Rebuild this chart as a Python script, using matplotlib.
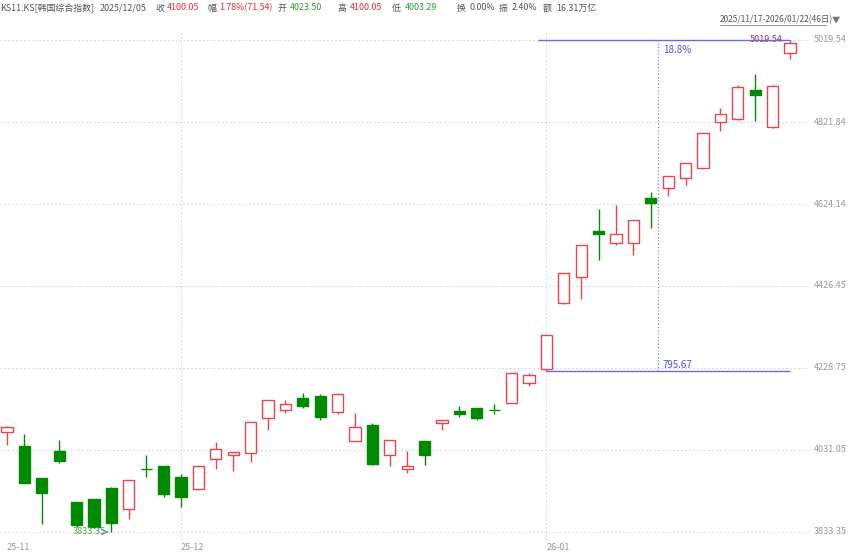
import matplotlib
matplotlib.use("Agg")
import matplotlib.pyplot as plt
from matplotlib.patches import Rectangle

plt.rcParams['font.family'] = ['Noto Sans CJK SC', 'DejaVu Sans']

opens  = [4074,4041,3963,4029,3906,3913,3939,3889,3986,3992,3966,3937,4009,4019,4024,4108,4127,4156,4161,4123,
          4053,4091,4019,3985,4053,4096,4125,4132,4127,4144,4193,4226,4386,4448,4559,4530,4530,4639,4663,4687,
          4711,4822,4829,4899,4810,4988]
highs  = [4088,4070,3963,4055,3906,3913,3942,3959,4019,3992,3973,3992,4050,4026,4099,4152,4152,4168,4166,4166,
          4120,4096,4055,4029,4053,4103,4137,4132,4142,4217,4217,4308,4458,4525,4612,4622,4586,4653,4692,4723,
          4795,4856,4911,4938,4911,5019.54]
lows   = [4043,3951,3853,3999,3845,3843,3833.35,3865,3966,3918,3894,3935,3985,3980,4002,4079,4120,4132,4103,4118,
          4053,3995,3992,3975,3995,4079,4111,4103,4118,4144,4185,4222,4384,4395,4489,4525,4501,4566,4643,4670,
          4709,4800,4827,4824,4808,4974]
closes = [4086,3951,3927,4004,3850,3845,3855,3959,3985,3925,3918,3992,4033,4026,4099,4152,4142,4137,4111,4166,
          4086,3997,4055,3992,4019,4103,4118,4108,4126,4217,4212,4308,4458,4525,4552,4552,4586,4627,4692,4723,
          4795,4841,4906,4887,4909,5012]
month_labels = ["25-11", "25-12", "26-01"]
month_idx = [0, 10, 31]
yticks = [5019.54, 4821.84, 4624.14, 4426.45, 4228.75, 4031.05, 3833.35]

W, H = 860, 553
fig = plt.figure(figsize=(8.6, 5.53), dpi=100)
ax = fig.add_axes([0, 1-540/H, 810/W, 510/H])
pxv = (5019.54-3833.35)/492
ax.set_ylim(5019.54-500*pxv, 5019.54+10*pxv)
ax.set_xlim(-0.4, 46.15)
for s in ax.spines.values():
    s.set_visible(False)
ax.set_xticks([]); ax.set_yticks([])

for y in yticks:
    ax.axhline(y, color='#d8d8d8', lw=0.7, ls=(0, (2, 2)), zorder=0)
for i in month_idx[1:]:
    ax.axvline(i, color='#d8d8d8', lw=0.7, ls=(0, (2, 2)), zorder=0)

red = '#e8434f'; green = '#008a00'
w = 0.64
for i, (o, h, l, c) in enumerate(zip(opens, highs, lows, closes)):
    up = c > o
    col = red if up else green
    lo, hi = min(o, c), max(o, c)
    ax.vlines(i, l, lo, color=col, lw=1, zorder=2)
    ax.vlines(i, hi, h, color=col, lw=1, zorder=2)
    if hi - lo < 1.5:
        ax.hlines(o, i-w/2, i+w/2, color=col, lw=1, zorder=3)
    else:
        ax.add_patch(Rectangle((i-w/2, lo), w, hi-lo, facecolor='white' if up else green,
                               edgecolor=col, lw=1, zorder=3))

# measurement annotations
ax.hlines(5019.54, 30.5, 45, color='#6a6ad8', lw=1, zorder=4)
ax.hlines(4222, 31, 45, color='#6a6ad8', lw=1, zorder=4)
ax.vlines(37.4, 4222, 5019.54, color='#7070e0', lw=0.8, ls=(0, (1, 2)), zorder=4)
ax.text(37.7, 4995, "18.8%", color='#5050d0', fontsize=7, va='center')
ax.text(37.7, 4236, "795.67", color='#5050d0', fontsize=7, va='center')
ax.text(42.7, 5019.54, "5019.54", color='#a03060', fontsize=6.5, va='center')
ax.text(3.8, 3833.35, "3833.35", color='#50a050', fontsize=6.5, va='center')
ax.annotate("", xy=(6.0, 3833.35), xytext=(5.6, 3833.35),
            arrowprops=dict(arrowstyle='->', color='#6090c0', lw=0.8))

# y tick labels on the right
for y in yticks:
    ax.text(1.005, y, f"{y:.2f}", transform=ax.get_yaxis_transform(), color='#999999',
            fontsize=6.5, va='center', ha='left', clip_on=False)
for lab, i in zip(month_labels, month_idx):
    ax.text(i, 5019.54-507*pxv, lab, color='#999999', fontsize=6.5, va='center', ha='left', clip_on=False)

# header
hy = 1 - 8/H
parts = [(0, "KS11.KS[韩国综合指数]", '#555555'), (100, "2025/12/05", '#555555'),
         (155, "收", '#555555'), (167, "4100.05", '#e03030'),
         (207, "幅", '#555555'), (219, "1.78%(71.54)", '#e03030'),
         (278, "开", '#555555'), (290, "4023.50", '#30a030'),
         (338, "高", '#555555'), (350, "4100.05", '#e03030'),
         (392, "低", '#555555'), (405, "4003.29", '#30a030'),
         (457, "换", '#555555'), (470, "0.00%", '#555555'),
         (499, "振", '#555555'), (512, "2.40%", '#555555'),
         (543, "额", '#555555'), (556, "16.31万亿", '#555555')]
for x, t, c in parts:
    fig.text(x/W, hy, t, color=c, fontsize=6.4, va='center', ha='left')
fig.text(720/W, 1-20/H, "2025/11/17-2026/01/22(46日)", color='#555555', fontsize=6,
         va='center', ha='left')
fig.add_artist(plt.Line2D([720/W, 826/W], [1-25/H, 1-25/H], color='#888888', lw=0.6))
fig.text(832/W, 1-20/H, "▼", color='#777777', fontsize=6, va='center', ha='left')

fig.savefig("out.png", dpi=100)
